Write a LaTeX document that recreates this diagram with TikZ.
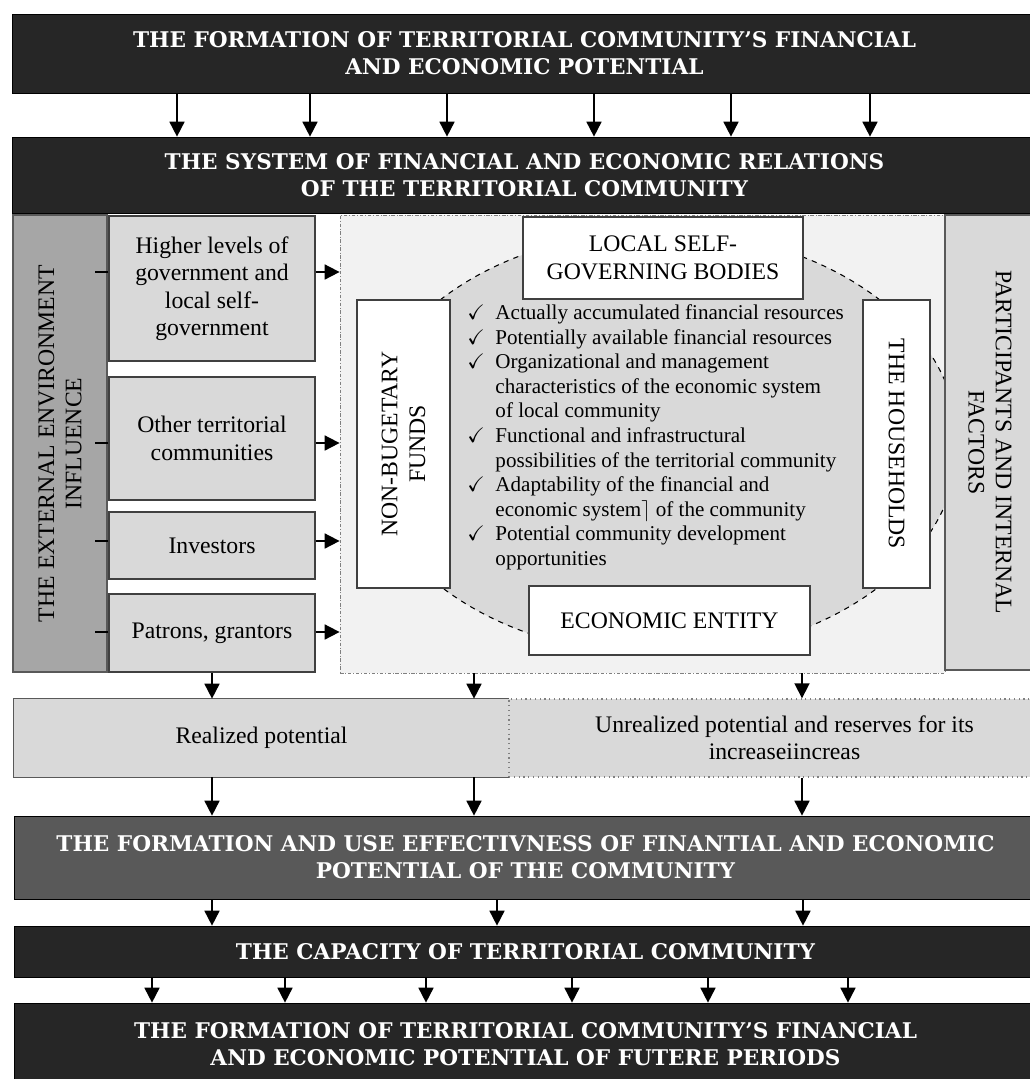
\documentclass[tikz,border=0pt]{standalone}
\usepackage{amssymb}
\usepackage{fontspec}
\setmainfont{Liberation Serif}
\newfontfamily\headfont{DejaVu Serif}
\usetikzlibrary{arrows.meta}
\definecolor{headgray}{HTML}{262626}
\definecolor{effgray}{HTML}{595959}
\definecolor{extgray}{HTML}{A6A6A6}
\definecolor{lgray}{HTML}{D9D9D9}
\definecolor{coregray}{HTML}{F2F2F2}
\definecolor{boxline}{HTML}{404040}

\begin{document}
\begin{tikzpicture}[x=0.02cm, y=-0.02cm,
  head/.style={draw=black, fill=headgray, text=white, align=center, inner sep=0pt,
    font=\headfont\bfseries\fontsize{12.3}{15.3}\selectfont},
  gbox/.style={draw=boxline, line width=0.7pt, fill=lgray, align=center, inner sep=0pt,
    font=\fontsize{13.5}{15.6}\selectfont},
  wbox/.style={draw=boxline, line width=1.3pt, fill=white, align=center, inner sep=0pt,
    font=\fontsize{13.5}{15.8}\selectfont},
  flow/.style={line width=1pt, -{Triangle[length=0.3cm, width=0.3cm]}}]
\useasboundingbox (0,0) rectangle (1030,1079);

\node[head, minimum width=20.5cm, minimum height=1.58cm] (h1) at (524.5,53.5)
  {THE FORMATION OF TERRITORIAL COMMUNITY’S FINANCIAL\\AND ECONOMIC POTENTIAL};
\node[head, minimum width=20.5cm, minimum height=1.52cm] (h2) at (524.5,175)
  {THE SYSTEM OF FINANCIAL AND ECONOMIC RELATIONS\\OF THE TERRITORIAL COMMUNITY};
\foreach \x in {177,310,447,594,731,870}
  \draw[flow] (h1.south -| \x,0) -- (h2.north -| \x,0);

\node[gbox, fill=extgray, draw=effgray, rotate=90, minimum width=9.14cm, minimum height=1.88cm] (ext) at (60,443.5)
  {THE EXTERNAL ENVIRONMENT\\INFLUENCE};
\node[gbox, minimum width=4.12cm, minimum height=2.9cm] (hl) at (212,288.5)
  {Higher levels of\\government and\\local self-\\government};
\node[gbox, minimum width=4.12cm, minimum height=2.46cm] (otc) at (212,438.5)
  {Other territorial\\communities};
\node[gbox, minimum width=4.12cm, minimum height=1.34cm] (inv) at (212,545.5) {Investors};
\node[gbox, minimum width=4.12cm, minimum height=1.56cm] (pat) at (212,633) {Patrons, grantors};

\node[draw=gray, fill=coregray, line width=0.5pt, dash pattern=on 2pt off 1pt on 0.5pt off 1pt,
  minimum width=12.1cm, minimum height=9.16cm] (core) at (642.5,444) {};
\draw[fill=lgray, dashed, line width=0.6pt] (660,443) ellipse [x radius=5.96cm, y radius=4.24cm];

\node[gbox, draw=effgray, line width=1pt, rotate=-90, minimum width=9.1cm, minimum height=1.8cm] (part) at (990,442.5)
  {PARTICIPANTS AND INTERNAL\\FACTORS};

\node[wbox, minimum width=5.6cm, minimum height=1.64cm] (lsg) at (663,258)
  {LOCAL SELF-\\GOVERNING BODIES};
\node[wbox, rotate=90, minimum width=5.76cm, minimum height=1.86cm] (nbf) at (403.5,444)
  {NON-BUGETARY\\FUNDS};
\node[wbox, rotate=-90, minimum width=5.76cm, minimum height=1.34cm] (hh) at (896.5,444)
  {THE HOUSEHOLDS};
\node[wbox, minimum width=5.62cm, minimum height=1.38cm] (ent) at (669.5,620.5)
  {ECONOMIC ENTITY};

\node[anchor=north west, inner sep=0pt, font=\fontsize{12}{14}\selectfont] (lst) at (467,302)
  {\begin{tabular}{@{}l@{\hspace{6pt}}l@{}}
  $\checkmark$ & Actually accumulated financial resources\\
  $\checkmark$ & Potentially available financial resources\\
  $\checkmark$ & Organizational and management\\
   & characteristics of the economic system\\
   & of local community\\
  $\checkmark$ & Functional and infrastructural\\
   & possibilities of the territorial community\\
  $\checkmark$ & Adaptability of the financial and\\
   & economic system$\rceil$ of the community\\
  $\checkmark$ & Potential community development\\
   & opportunities
  \end{tabular}};

\foreach \n/\y in {hl/272,otc/443,inv/541,pat/632} {
  \draw[line width=1pt] (\n.west |- 0,\y) -- ++(-13,0);
  \draw[flow] (\n.east |- 0,\y) -- (core.west |- 0,\y);
}

\node[fill=lgray, minimum width=9.9cm, minimum height=1.56cm, font=\fontsize{13.5}{15.6}\selectfont] (real) at (261.5,738)
  {Realized potential};
\draw[effgray, line width=0.8pt] (real.north east) -- (real.north west) -- (real.south west) -- (real.south east);
\node[gbox, draw=gray, dotted, line width=0.8pt, minimum width=11.02cm, minimum height=1.56cm] (unreal) at (784.5,738)
  {Unrealized potential and reserves for its\\increaseiincreas};
\draw[flow] (pat.south) -- (real.north -| pat.south);
\draw[flow] (core.south -| 474,0) -- (real.north -| 474,0);
\draw[flow] (core.south -| 802,0) -- (unreal.north -| 802,0);

\node[head, fill=effgray, minimum width=20.46cm, minimum height=1.66cm] (eff) at (525.5,857.5)
  {THE FORMATION AND USE EFFECTIVNESS OF FINANTIAL AND ECONOMIC\\POTENTIAL OF THE COMMUNITY};
\draw[flow] (real.south -| 212,0) -- (eff.north -| 212,0);
\draw[flow] (real.south -| 474,0) -- (eff.north -| 474,0);
\draw[flow] (unreal.south -| 802,0) -- (eff.north -| 802,0);

\node[head, minimum width=20.46cm, minimum height=1.02cm] (cap) at (525.5,951.5)
  {THE CAPACITY OF TERRITORIAL COMMUNITY};
\foreach \x in {212,497,803}
  \draw[flow] (eff.south -| \x,0) -- (cap.north -| \x,0);

\node[head, minimum width=20.46cm, minimum height=1.64cm] (fin) at (525.5,1044)
  {THE FORMATION OF TERRITORIAL COMMUNITY’S FINANCIAL\\AND ECONOMIC POTENTIAL OF FUTERE PERIODS};
\foreach \x in {152,285,426,572,708,848}
  \draw[flow] (cap.south -| \x,0) -- (fin.north -| \x,0);
\end{tikzpicture}
\end{document}
